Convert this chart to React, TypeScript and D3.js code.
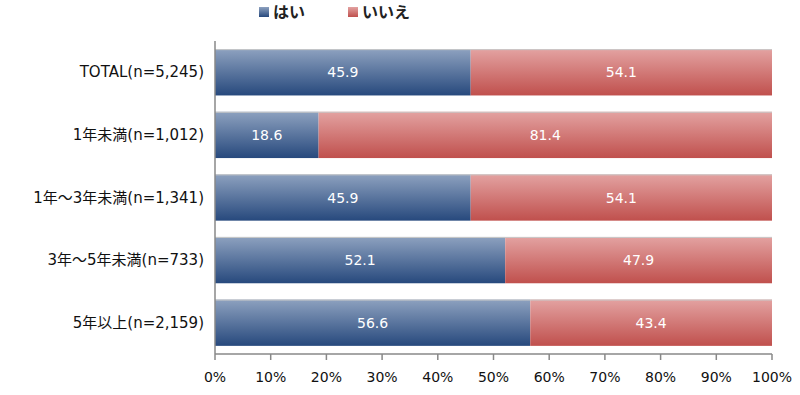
import React from 'react';
import { scaleLinear, scaleBand } from 'd3';

const categories = ['TOTAL(n=5,245)', '1年未満(n=1,012)', '1年～3年未満(n=1,341)', '3年～5年未満(n=733)', '5年以上(n=2,159)'];
const yesValues = [45.9, 18.6, 45.9, 52.1, 56.6];
const noValues = [54.1, 81.4, 54.1, 47.9, 43.4];
const seriesNames = ['はい', 'いいえ'];
const tickValues = [0, 10, 20, 30, 40, 50, 60, 70, 80, 90, 100];

const font = '"DejaVu Sans", "Noto Sans CJK JP", sans-serif';
const cjkFont = '"Noto Sans CJK JP", sans-serif';

const App = () => {
    const width = 800;
    const height = 395;
    const left = 215;
    const right = 772;
    const top = 41;
    const bottom = 354;

    const x = scaleLinear().domain([0, 100]).range([left, right]);
    const y = scaleBand<string>().domain(categories).range([top, bottom]).paddingInner(0.26).paddingOuter(0.13);

    return (
        <svg width={width} height={height} style={{ position: 'absolute', left: 0, top: 0, background: '#fff' }}>
            <defs>
                <linearGradient id="gBlue" x1="0" y1="0" x2="0" y2="1">
                    <stop offset="0" stopColor="#8da1bf" />
                    <stop offset="1" stopColor="#27497d" />
                </linearGradient>
                <linearGradient id="gRed" x1="0" y1="0" x2="0" y2="1">
                    <stop offset="0" stopColor="#e3a2a1" />
                    <stop offset="1" stopColor="#c0504d" />
                </linearGradient>
            </defs>

            {/* legend */}
            <rect x={259} y={7} width={10} height={10} fill="url(#gBlue)" />
            <text x={273} y={18} fontFamily={cjkFont} fontSize={16} fontWeight="bold" fill="#222">{seriesNames[0]}</text>
            <rect x={348} y={7} width={10} height={10} fill="url(#gRed)" />
            <text x={362} y={18} fontFamily={cjkFont} fontSize={16} fontWeight="bold" fill="#222">{seriesNames[1]}</text>

            {categories.map((c, i) => {
                const by = y(c)!;
                const bh = y.bandwidth();
                const x0 = x(0);
                const x1 = x(yesValues[i]);
                const x2 = x(yesValues[i] + noValues[i]);
                return (
                    <g key={c}>
                        <rect x={x0} y={by} width={x1 - x0} height={bh} fill="url(#gBlue)" />
                        <rect x={x1} y={by} width={x2 - x1} height={bh} fill="url(#gRed)" />
                        <line x1={x0} x2={x2} y1={by + 0.5} y2={by + 0.5} stroke="#c8c8c8" />
                        <text x={(x0 + x1) / 2} y={by + bh / 2 + 5} textAnchor="middle" fontFamily={font} fontSize={14} fill="#fff">{yesValues[i].toFixed(1)}</text>
                        <text x={(x1 + x2) / 2} y={by + bh / 2 + 5} textAnchor="middle" fontFamily={font} fontSize={14} fill="#fff">{noValues[i].toFixed(1)}</text>
                        <text x={left - 11} y={by + bh / 2 + 5} textAnchor="end" fontFamily={font} fontSize={15} fill="#111">{c}</text>
                    </g>
                );
            })}

            {/* axes */}
            <line x1={left} x2={left} y1={top} y2={bottom} stroke="#888" strokeWidth={1.5} />
            <line x1={left} x2={right} y1={bottom} y2={bottom} stroke="#888" strokeWidth={1.5} />
            {tickValues.map(t => (
                <g key={t}>
                    <line x1={x(t)} x2={x(t)} y1={bottom} y2={bottom + 6} stroke="#888" strokeWidth={1.5} />
                    <text x={x(t)} y={bottom + 28} textAnchor="middle" fontFamily={font} fontSize={14} fill="#111">{t}%</text>
                </g>
            ))}
        </svg>
    );
};

export default App;
